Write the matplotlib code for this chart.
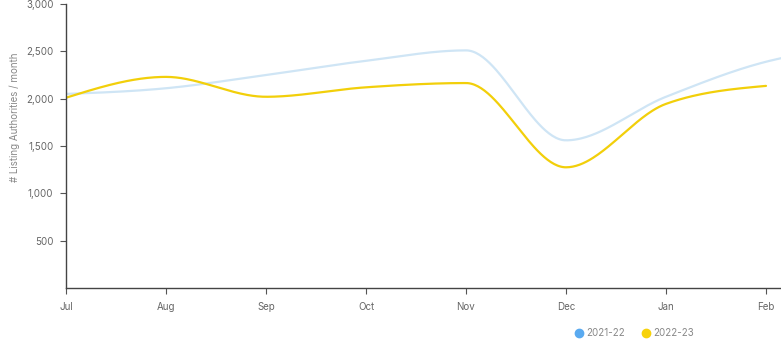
import numpy as np
import matplotlib
matplotlib.use("Agg")
import matplotlib.pyplot as plt
from matplotlib.lines import Line2D

plt.rcParams['font.family'] = ['Inter', 'DejaVu Sans']

months = ["Jul", "Aug", "Sep", "Oct", "Nov", "Dec", "Jan", "Feb"]
series_2122 = [2050, 2110, 2250, 2400, 2510, 1560, 2020, 2390, 2560]  # last point (Mar) clipped
series_2223 = [2010, 2230, 2020, 2120, 2165, 1275, 1945, 2135]
yticks = [500, 1000, 1500, 2000, 2500, 3000]

def monotone(xs, ys, n=60):
    xs = np.asarray(xs, float); ys = np.asarray(ys, float)
    h = np.diff(xs); d = np.diff(ys) / h
    m = np.zeros_like(ys)
    for i in range(1, len(ys) - 1):
        if d[i-1] * d[i] <= 0:
            m[i] = 0
        else:
            p = (d[i-1] * h[i] + d[i] * h[i-1]) / (h[i-1] + h[i])
            m[i] = (np.sign(d[i-1]) + np.sign(d[i])) * min(abs(d[i-1]), abs(d[i]), 0.5 * abs(p))
    m[0] = (3 * d[0] - m[1]) / 2
    m[-1] = (3 * d[-1] - m[-2]) / 2
    X, Y = [], []
    for i in range(len(h)):
        t = np.linspace(0, 1, n)
        h00 = 2*t**3 - 3*t**2 + 1; h10 = t**3 - 2*t**2 + t
        h01 = -2*t**3 + 3*t**2; h11 = t**3 - t**2
        X.append(xs[i] + t * h[i])
        Y.append(h00*ys[i] + h10*h[i]*m[i] + h01*ys[i+1] + h11*h[i]*m[i+1])
    return np.concatenate(X), np.concatenate(Y)

fig = plt.figure(figsize=(7.81, 3.60), dpi=100)
ax = fig.add_axes([66/781, 72/360, 1 - 66/781, 284/360])

x1, y1 = monotone(range(len(series_2122)), series_2122)
x2, y2 = monotone(range(len(series_2223)), series_2223)
ax.plot(x1, y1, color="#cfe5f5", lw=1.6, solid_capstyle='round')
ax.plot(x2, y2, color="#f2cf0a", lw=1.6, solid_capstyle='round')

ax.set_xlim(0, 7.15)
ax.set_ylim(0, 3000)
ax.set_xticks(range(len(months)))
ax.set_xticklabels(months)
ax.set_yticks(yticks)
ax.set_yticklabels([f"{v:,}" for v in yticks])

for s in ["top", "right"]:
    ax.spines[s].set_visible(False)
for s in ["left", "bottom"]:
    ax.spines[s].set_color("#444444")
    ax.spines[s].set_linewidth(1.0)
ax.tick_params(axis='both', colors="#555555", labelsize=7, length=4, width=0.8, pad=5)
ax.tick_params(axis='x', pad=6)
ax.tick_params(axis='both', labelcolor="#666666")
ax.set_ylabel("# Listing Authorities / month", fontsize=7, color="#888888")
ax.yaxis.set_label_coords(-0.064, 0.6)

handles = [Line2D([], [], marker='o', linestyle='none', color="#5aaaf0", markersize=6),
           Line2D([], [], marker='o', linestyle='none', color="#f7d20a", markersize=6)]
fig.legend(handles, ["2021-22", "2022-23"], loc='center', bbox_to_anchor=(634/781, 1 - 333/360),
           ncol=2, frameon=False, fontsize=7, handletextpad=0.3, columnspacing=1.6,
           labelcolor="#888888", handlelength=1.0)

fig.savefig("out.png", dpi=100)
